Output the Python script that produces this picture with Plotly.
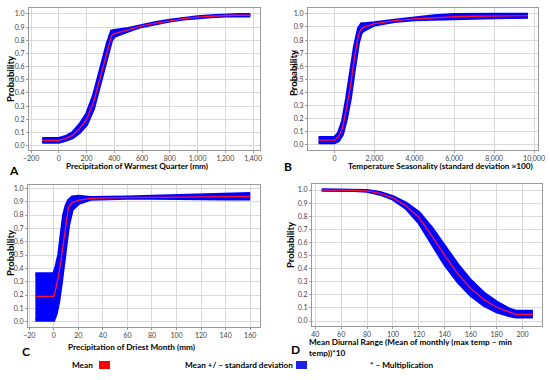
import plotly.graph_objects as go

# ---------------- data ----------------
a_x = [-120, 0, 50, 100, 150, 200, 250, 300, 350, 380, 400, 500, 600, 700, 800, 900, 1000, 1100, 1200, 1300, 1380]
a_mean = [0.04, 0.04, 0.055, 0.08, 0.13, 0.2, 0.33, 0.53, 0.73, 0.835, 0.85, 0.88, 0.91, 0.93, 0.95, 0.965, 0.975, 0.982, 0.988, 0.99, 0.99]
a_upper = [0.055, 0.055, 0.07, 0.1, 0.16, 0.24, 0.38, 0.59, 0.78, 0.87, 0.875, 0.89, 0.915, 0.935, 0.953, 0.968, 0.978, 0.986, 0.992, 0.995, 0.995]
a_lower = [0.025, 0.025, 0.04, 0.06, 0.1, 0.16, 0.28, 0.47, 0.68, 0.8, 0.83, 0.87, 0.905, 0.925, 0.947, 0.962, 0.972, 0.978, 0.984, 0.985, 0.985]

b_x = [-800, 0, 200, 400, 600, 800, 1000, 1200, 1350, 1500, 2000, 3000, 4000, 5000, 6000, 7000, 8000, 9000, 9700]
b_mean = [0.035, 0.035, 0.06, 0.13, 0.28, 0.45, 0.67, 0.84, 0.89, 0.9, 0.925, 0.948, 0.962, 0.972, 0.978, 0.982, 0.985, 0.986, 0.986]
b_upper = [0.055, 0.055, 0.09, 0.18, 0.35, 0.54, 0.75, 0.89, 0.925, 0.925, 0.932, 0.952, 0.97, 0.985, 0.995, 0.998, 0.998, 0.998, 0.997]
b_lower = [0.015, 0.015, 0.03, 0.08, 0.2, 0.36, 0.58, 0.78, 0.86, 0.875, 0.915, 0.942, 0.955, 0.96, 0.965, 0.968, 0.971, 0.973, 0.974]

c_x = [-15, 0, 2, 4, 6, 8, 10, 12, 15, 20, 30, 40, 60, 80, 100, 120, 140, 160]
c_mean = [0.19, 0.19, 0.26, 0.35, 0.47, 0.6, 0.75, 0.86, 0.895, 0.91, 0.925, 0.928, 0.93, 0.932, 0.935, 0.937, 0.94, 0.94]
c_upper = [0.36, 0.36, 0.42, 0.5, 0.65, 0.8, 0.87, 0.91, 0.935, 0.94, 0.932, 0.932, 0.935, 0.94, 0.945, 0.952, 0.958, 0.962]
c_lower = [0.01, 0.01, 0.06, 0.15, 0.28, 0.42, 0.58, 0.72, 0.84, 0.885, 0.918, 0.922, 0.925, 0.925, 0.922, 0.92, 0.92, 0.92]

d_x = [45, 60, 70, 80, 90, 100, 110, 120, 130, 140, 150, 160, 170, 180, 190, 195, 208]
d_mean = [1.0, 1.0, 0.998, 0.993, 0.975, 0.94, 0.88, 0.79, 0.65, 0.5, 0.36, 0.25, 0.165, 0.105, 0.065, 0.05, 0.05]
d_upper = [1.0, 1.0, 1.0, 0.997, 0.982, 0.95, 0.9, 0.83, 0.71, 0.57, 0.43, 0.31, 0.215, 0.145, 0.09, 0.075, 0.075]
d_lower = [1.0, 1.0, 0.996, 0.99, 0.968, 0.93, 0.86, 0.75, 0.59, 0.43, 0.3, 0.195, 0.12, 0.07, 0.04, 0.03, 0.03]

x_titles = ["Precipitation of Warmest Quarter (mm)",
            "Temperature Seasonality (standard deviation ×100)",
            "Precipitation of Driest Month (mm)"]
d_title_lines = ["Mean Diurnal Range (Mean of monthly (max temp – min", "temp))*10"]
letters = ["A", "B", "C", "D"]
legend_labels = ["Mean", "Mean +/ – standard deviation", "* – Multiplication"]

W, H = 550, 380
BLUE = "#0000ff"
RED = "#ff1040"
FONT = "Lato"

def px(x):
    return x / W

def py(y):
    return 1 - y / H

fig = go.Figure()

panels = [
    (a_x, a_mean, a_upper, a_lower, "x", "y"),
    (b_x, b_mean, b_upper, b_lower, "x2", "y2"),
    (c_x, c_mean, c_upper, c_lower, "x3", "y3"),
    (d_x, d_mean, d_upper, d_lower, "x4", "y4"),
]
for xs, m, up, lo, xa, ya in panels:
    fig.add_trace(go.Scatter(x=xs, y=lo, mode="lines", line=dict(color=BLUE, width=3),
                             xaxis=xa, yaxis=ya, showlegend=False, hoverinfo="skip"))
    fig.add_trace(go.Scatter(x=xs, y=up, mode="lines", line=dict(color=BLUE, width=3),
                             fill="tonexty", fillcolor=BLUE,
                             xaxis=xa, yaxis=ya, showlegend=False, hoverinfo="skip"))
    fig.add_trace(go.Scatter(x=xs, y=m, mode="lines", line=dict(color=RED, width=1.3),
                             xaxis=xa, yaxis=ya, showlegend=False))

tickfont = dict(family=FONT, size=7, color="#444")
common_x = dict(showgrid=True, gridcolor="#d9d9d9", gridwidth=1, zeroline=False,
                showline=True, linecolor="#9a9a9a", linewidth=1, mirror=True,
                ticks="outside", ticklen=2, tickcolor="#9a9a9a", tickfont=tickfont,
                tickformat=",d", automargin=False)
common_y = dict(showgrid=True, gridcolor="#d9d9d9", gridwidth=1, zeroline=False,
                showline=True, linecolor="#9a9a9a", linewidth=1, mirror=True,
                ticks="outside", ticklen=2, tickcolor="#9a9a9a", tickfont=tickfont,
                tickformat=".1f", dtick=0.1, tick0=0, automargin=False)

fig.update_layout(
    width=W, height=H, margin=dict(l=0, r=0, t=0, b=0, pad=0, autoexpand=False),
    paper_bgcolor="white", plot_bgcolor="white",
    font=dict(family=FONT),
    xaxis=dict(common_x, domain=[px(29), px(260)], range=[-215, 1450], dtick=200, tick0=0, anchor="y"),
    yaxis=dict(common_y, domain=[py(150), py(8)], range=[-0.033, 1.045], anchor="x"),
    xaxis2=dict(common_x, domain=[px(308), px(538)], range=[-1330, 10200], dtick=2000, tick0=0, anchor="y2"),
    yaxis2=dict(common_y, domain=[py(150), py(8)], range=[-0.04, 1.045], anchor="x2"),
    xaxis3=dict(common_x, domain=[px(28), px(260)], range=[-21, 168], dtick=20, tick0=0, anchor="y3"),
    yaxis3=dict(common_y, domain=[py(327), py(185)], range=[-0.04, 1.025], anchor="x3"),
    xaxis4=dict(common_x, domain=[px(312), px(542)], range=[37.5, 215], dtick=20, tick0=0, anchor="y4"),
    yaxis4=dict(common_y, domain=[py(326), py(184)], range=[-0.038, 1.046], anchor="x4"),
)

TITLE_SIZE = 8.2
ann = []
# y-axis titles
for (x, y) in [(11, 79), (293, 73), (11, 253), (290, 245)]:
    ann.append(dict(text="<b>Probability</b>", x=px(x), y=py(y), xref="paper", yref="paper",
                    xanchor="center", yanchor="middle",
                    textangle=-90, showarrow=False, font=dict(family=FONT, size=9.5, color="black")))
# x-axis titles
for t, (x, y) in zip(x_titles, [(137, 166), (440, 166), (131, 347)]):
    ann.append(dict(text="<b>" + t + "</b>", x=px(x), y=py(y), xref="paper", yref="paper",
                    xanchor="center", yanchor="middle",
                    showarrow=False, font=dict(family=FONT, size=TITLE_SIZE, color="black")))
for t, y in zip(d_title_lines, [342, 353]):
    ann.append(dict(text="<b>" + t + "</b>", x=px(307), y=py(y), xref="paper", yref="paper",
                    xanchor="left", yanchor="middle", showarrow=False,
                    font=dict(family=FONT, size=TITLE_SIZE, color="black")))
# panel letters
for lt, (x, y) in zip(letters, [(14, 171), (288, 166), (26, 351), (295, 349)]):
    ann.append(dict(text="<b>" + lt + "</b>", x=px(x), y=py(y), xref="paper", yref="paper",
                    xanchor="center", yanchor="middle",
                    showarrow=False, font=dict(family=FONT, size=12, color="black")))
# legend
for lab, x in zip(legend_labels, [70, 183, 368]):
    ann.append(dict(text="<b>" + lab + "</b>", x=px(x), y=py(365), xref="paper", yref="paper",
                    xanchor="left", yanchor="middle",
                    showarrow=False, font=dict(family=FONT, size=8.2, color="black")))
fig.update_layout(annotations=ann)

fig.add_shape(type="rect", xref="paper", yref="paper", x0=px(99), x1=px(110), y0=py(369), y1=py(361),
              fillcolor="#ff0000", line=dict(width=0))
fig.add_shape(type="rect", xref="paper", yref="paper", x0=px(296), x1=px(307), y0=py(369), y1=py(361),
              fillcolor="#2020ee", line=dict(width=0))

fig.write_html("out.html", config={"displayModeBar": False},
               post_script="document.body.style.margin='0px';")
